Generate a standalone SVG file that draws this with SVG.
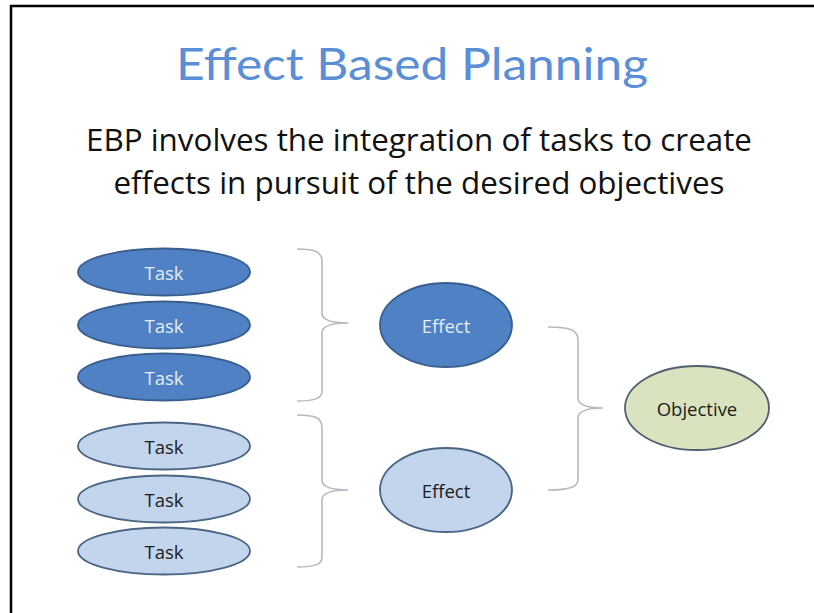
<svg xmlns="http://www.w3.org/2000/svg" width="814" height="613" viewBox="0 0 814 613">
<style>
.frame{fill:none;stroke:#000;stroke-width:2.5}
.title{font-family:Lato,"Open Sans","Liberation Sans",sans-serif;font-size:44px;fill:#5a8ed6}
.sub{font-family:"Open Sans","Liberation Sans",sans-serif;font-size:31px;fill:#111}
.dark{fill:#4f81c4;stroke:#3a5f8e;stroke-width:1.8}
.light{fill:#c3d5ec;stroke:#4b6584;stroke-width:1.8}
.obj{fill:#d9e3bf;stroke:#4f5f6f;stroke-width:1.8}
.lbl{font-family:"Open Sans","Liberation Sans",sans-serif;font-size:18.5px;text-anchor:middle;dominant-baseline:central}
.lw{fill:#e4ecf7}
.ld{fill:#1c1c1c}
.brace{fill:none;stroke:#b5b9c2;stroke-width:1.6}
</style>
<path class="frame" d="M11,613 L11,6 L814,6"/>
<text class="title" x="412" y="80" text-anchor="middle" textLength="472" lengthAdjust="spacingAndGlyphs">Effect Based Planning</text>
<text class="sub" x="419" y="151" text-anchor="middle" textLength="666" lengthAdjust="spacingAndGlyphs">EBP involves the integration of tasks to create</text>
<text class="sub" x="419" y="194" text-anchor="middle" textLength="611" lengthAdjust="spacingAndGlyphs">effects in pursuit of the desired objectives</text>
<g id="connectors">
<path class="brace" d="M297,249 C316,249 322,252 322,262 L322,313 C322,320 330,323 348,323 C330,323 322,326 322,333 L322,391 C322,398 316,401 297,401"/>
<path class="brace" d="M297,415 C316,415 322,418 322,428 L322,480 C322,487 330,490 348,490 C330,490 322,493 322,500 L322,557 C322,564 316,567 297,567"/>
<path class="brace" d="M548,327 C570,327 578,330 578,340 L578,398 C578,405 586,408 603,408 C586,408 578,411 578,418 L578,479 C578,487 570,490 548,490"/>
</g>
<g id="task1"><ellipse class="dark" cx="164" cy="272" rx="86" ry="23.5"/><text class="lbl lw" x="164" y="272">Task</text></g>
<g id="task2"><ellipse class="dark" cx="164" cy="325" rx="86" ry="23.5"/><text class="lbl lw" x="164" y="325">Task</text></g>
<g id="task3"><ellipse class="dark" cx="164" cy="377" rx="86" ry="23.5"/><text class="lbl lw" x="164" y="377">Task</text></g>
<g id="task4"><ellipse class="light" cx="164" cy="446" rx="86" ry="23.5"/><text class="lbl ld" x="164" y="446">Task</text></g>
<g id="task5"><ellipse class="light" cx="164" cy="499" rx="86" ry="23.5"/><text class="lbl ld" x="164" y="499">Task</text></g>
<g id="task6"><ellipse class="light" cx="164" cy="551" rx="86" ry="23.5"/><text class="lbl ld" x="164" y="551">Task</text></g>
<g id="effect1"><ellipse class="dark" cx="446" cy="325" rx="66" ry="42"/><text class="lbl lw" x="446" y="325">Effect</text></g>
<g id="effect2"><ellipse class="light" cx="446" cy="490" rx="66" ry="42"/><text class="lbl ld" x="446" y="490">Effect</text></g>
<g id="objective"><ellipse class="obj" cx="697" cy="408" rx="72" ry="42"/><text class="lbl ld" x="697" y="408">Objective</text></g>
</svg>
